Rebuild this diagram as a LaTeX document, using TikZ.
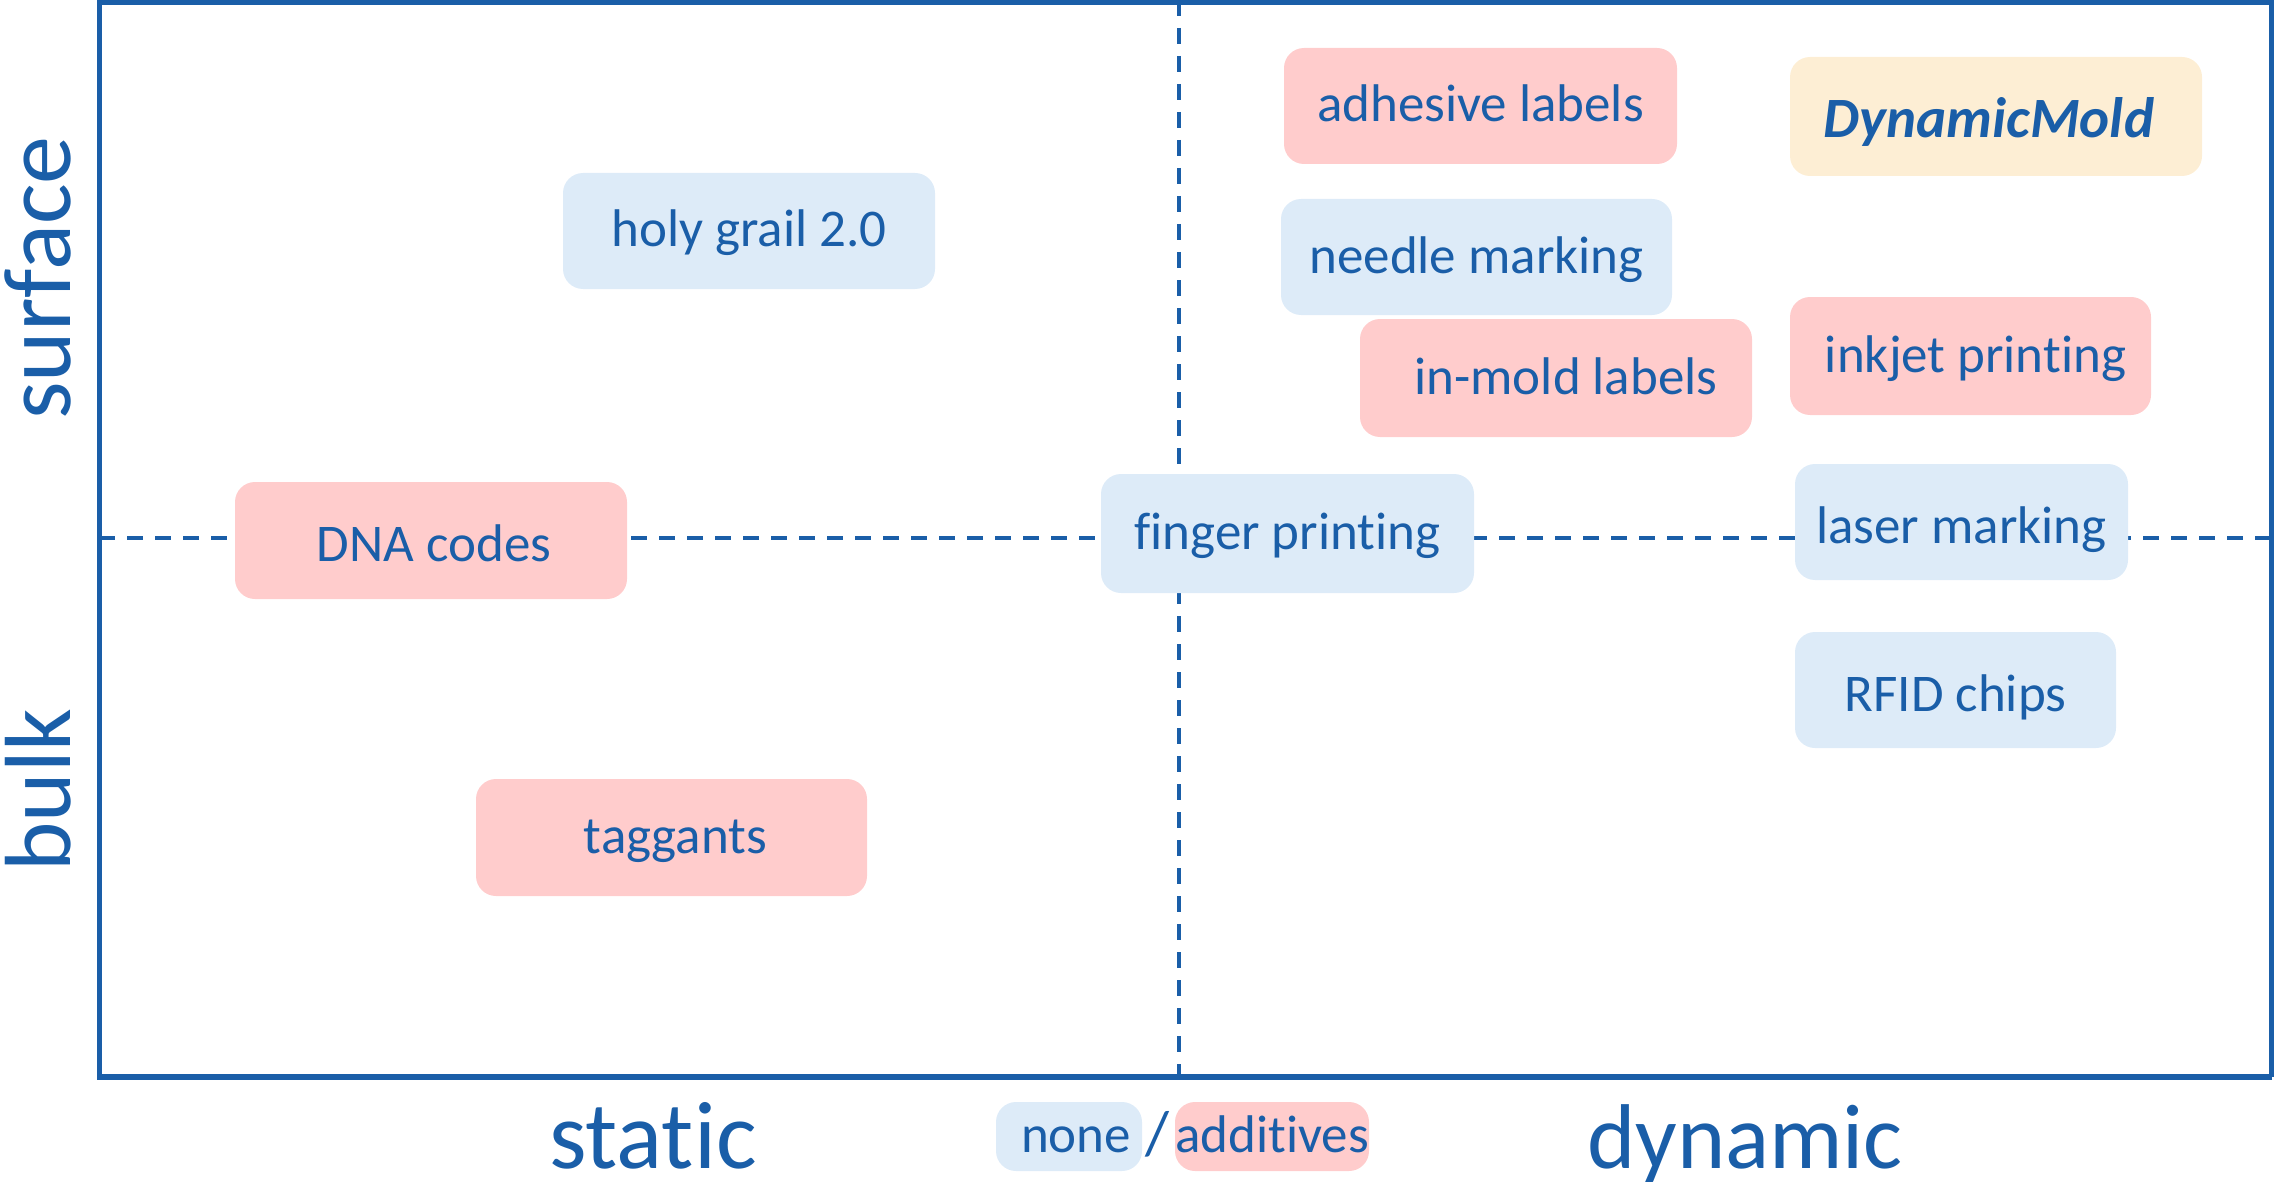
\documentclass[tikz,border=0pt]{standalone}
\usepackage{fontspec}
\setmainfont{Carlito}[Ligatures=NoCommon]
\definecolor{ink}{HTML}{1A5EA8}
\definecolor{nonefill}{HTML}{DDEBF8}
\definecolor{addfill}{HTML}{FFCCCC}
\definecolor{moldfill}{HTML}{FDEED4}
\begin{document}
\begin{tikzpicture}[x=0.5pt,y=-0.5pt,
  tag/.style={rounded corners=10pt, inner sep=0pt, text=ink,
    font=\fontsize{26.5pt}{30pt}\selectfont,
    text height=24pt, text depth=8pt},
  low/.style={text height=26.5pt, text depth=5.5pt},
  none/.style={tag, fill=nonefill},
  additive/.style={tag, fill=addfill},
  mold/.style={tag, fill=moldfill, font=\fontsize{28.5pt}{32pt}\selectfont\bfseries\itshape},
  axis/.style={text=ink, inner sep=0pt, anchor=base},
  grid/.style={ink, line width=2pt, dash pattern=on 8pt off 6pt}]
\useasboundingbox (0,0) rectangle (2274,1182);
% quadrant dividers
\draw[grid] (99,538) -- (2274,538);
\draw[grid, dash phase=1pt] (1179,2) -- (1179,1077);
% frame
\draw[ink, line width=2.75pt] (2272,1077) -- (99.5,1077) -- (99.5,2.5) -- (2274,2.5);
\draw[ink, line width=2.75pt] (2272,1077) -- (2272,2.5);
% methods
\node[additive, minimum width=393*0.5pt, minimum height=116*0.5pt] (adh) at (1480.5,106) {adhesive labels};
\node[mold, low, minimum width=412*0.5pt, minimum height=119*0.5pt] (dm) at (1996,116.5) {DynamicMold\hspace*{7pt}};
\node[none, minimum width=372*0.5pt, minimum height=116*0.5pt] (hg) at (749,231) {holy grail 2.0};
\node[none, minimum width=391*0.5pt, minimum height=116*0.5pt] (nm) at (1476.5,257) {needle marking};
\node[additive, minimum width=392*0.5pt, minimum height=118*0.5pt] (iml) at (1556,378) {\hspace{10pt}in-mold labels};
\node[additive, minimum width=361*0.5pt, minimum height=118*0.5pt] (ink) at (1970.5,356) {\hspace{5pt}inkjet printing};
\node[additive, low, minimum width=392*0.5pt, minimum height=117*0.5pt] (dna) at (431,540.5) {\hspace{3pt}DNA codes};
\node[none, minimum width=373*0.5pt, minimum height=119*0.5pt] (fp) at (1287.5,533.5) {finger printing};
\node[none, low, minimum width=333*0.5pt, minimum height=116*0.5pt] (lm) at (1961.5,522) {laser marking};
\node[none, low, minimum width=321*0.5pt, minimum height=116*0.5pt] (rfid) at (1955.5,690) {RFID chips};
\node[additive, minimum width=391*0.5pt, minimum height=117*0.5pt] (tag) at (671.5,837.5) {\hspace{4pt}taggants};
% axis labels
\node[axis, font=\fontsize{48pt}{52pt}\selectfont] (st) at (653,1168) {static};
\node[axis, font=\fontsize{46pt}{50pt}\selectfont] (dy) at (1745,1168) {dynamic};
\node[axis, rotate=90, font=\fontsize{48pt}{52pt}\selectfont] (sf) at (70,278) {surface};
\node[axis, rotate=90, font=\fontsize{47pt}{52pt}\selectfont] (bk) at (70,790) {bulk};
% legend
\node[none, minimum width=146*0.5pt, minimum height=69*0.5pt] (lgn) at (1069,1136.5) {\hspace{7pt}none};
\node[axis, font=\fontsize{31pt}{34pt}\selectfont] (sl) at (1157,1154) {/};
\node[additive, minimum width=194*0.5pt, minimum height=69*0.5pt] (lga) at (1272,1136.5) {additives};
\end{tikzpicture}
\end{document}
